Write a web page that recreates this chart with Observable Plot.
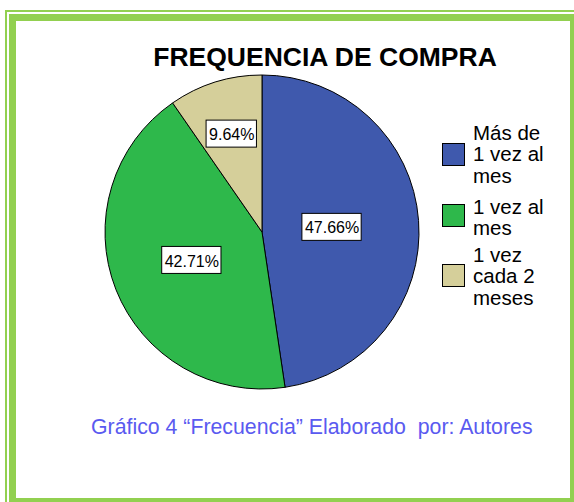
<!DOCTYPE html>
<html>
<head>
<meta charset="utf-8">
<script src="https://cdn.jsdelivr.net/npm/d3@7"></script>
<script src="https://cdn.jsdelivr.net/npm/@observablehq/plot@0.6"></script>
<style>
  html, body { margin: 0; padding: 0; background: #fff; width: 574px; height: 502px; overflow: hidden; position: relative; font-family: "Liberation Sans", Arial, sans-serif; }
  .thin { position: absolute; left: 5px; top: 10px; width: 700px; height: 700px; border-left: 2px solid #92D050; border-top: 2px solid #92D050; }
  .thick { position: absolute; left: 9px; top: 14px; width: 568px; height: 491px; box-sizing: border-box; border: 7.5px solid #92D050; background: #fff; }
  #title { position: absolute; left: 0; width: 650px; top: 44px; text-align: center; font-weight: bold; font-size: 26.5px; line-height: 27px; color: #000; white-space: nowrap; }
  #chart { position: absolute; left: 97px; top: 67px; }
  #legend { position: absolute; left: 0; top: 0; }
  .item { position: absolute; left: 473px; font-size: 20.5px; line-height: 21.3px; color: #000; white-space: nowrap; }
  .sw { position: absolute; left: 442px; width: 21px; height: 21px; border: 1px solid #000; }
  #caption { position: absolute; left: 91px; top: 416px; font-size: 21.3px; line-height: 22px; color: #5A5AF0; white-space: pre; }
</style>
</head>
<body>
<div class="thin"></div>
<div class="thick"></div>
<div id="title"></div>
<div id="chart"></div>
<div id="legend"></div>
<div id="caption"></div>
<script>
const titleText = "FREQUENCIA DE COMPRA";
const categories = ["Más de 1 vez al mes", "1 vez al mes", "1 vez cada 2 meses"];
const legendLines = [["Más de", "1 vez al", "mes"], ["1 vez al", "mes"], ["1 vez", "cada 2", "meses"]];
const values = [47.66, 42.71, 9.64];
const colors = ["#3F59AD", "#2EB84B", "#D5CF9A"];
const captionText = "Gráfico 4 “Frecuencia” Elaborado  por: Autores";

document.getElementById("title").textContent = titleText;
document.getElementById("caption").textContent = captionText;

const colorScale = Plot.scale({color: {type: "ordinal", domain: categories, range: colors}});

const data = categories.map((c, i) => ({category: c, value: values[i]}));
const arcs = d3.pie().sort(null).value(d => d.value)(data);

// label anchors at the centroid of each sector (unit radius, y up)
const labelData = arcs.map(a => {
  const alpha = (a.endAngle - a.startAngle) / 2;
  const th = (a.startAngle + a.endAngle) / 2;
  const d = 2 * Math.sin(alpha) / (3 * alpha);
  return {x: d * Math.sin(th), y: d * Math.cos(th), label: a.data.value.toFixed(2) + "%"};
});

const labelFont = "16px 'Liberation Sans', Arial, sans-serif";
const ctx = document.createElement("canvas").getContext("2d");
ctx.font = labelFont;

const size = 330, R = 157, C = size / 2;

const pieMark = (index, scales) => {
  const X = scales.x, Y = scales.y;
  const r = X(1) - X(0);
  const cx = X(0), cy = Y(0);
  const g = d3.create("svg:g");
  const arcGen = d3.arc().innerRadius(0).outerRadius(r);
  for (const a of arcs) {
    g.append("path")
      .attr("d", arcGen(a))
      .attr("transform", `translate(${cx},${cy})`)
      .attr("fill", colorScale.apply(a.data.category))
      .attr("stroke", "#000")
      .attr("stroke-width", 1)
      .attr("stroke-linejoin", "round");
  }
  for (const l of labelData) {
    const w = ctx.measureText(l.label).width + 5;
    const h = 27;
    g.append("rect")
      .attr("x", X(l.x) - w / 2)
      .attr("y", Y(l.y) - h / 2)
      .attr("width", w)
      .attr("height", h)
      .attr("fill", "#fff")
      .attr("stroke", "#000")
      .attr("stroke-width", 1);
  }
  return g.node();
};

const plot = Plot.plot({
  width: size,
  height: size,
  margin: 0,
  style: {background: "transparent", overflow: "visible"},
  x: {domain: [-1, 1], range: [C - R, C + R], axis: null},
  y: {domain: [-1, 1], range: [C + R, C - R], axis: null},
  marks: [
    pieMark,
    Plot.text(labelData, {
      x: "x", y: "y", text: "label",
      fill: "#000",
      fontSize: 16,
      fontFamily: "Liberation Sans, Arial, sans-serif",
      textAnchor: "middle",
      dy: 1
    })
  ]
});
document.getElementById("chart").appendChild(plot);

// legend
const legend = document.getElementById("legend");
const itemTops = [122, 196, 244];
const swatchTops = [143, 204, 264];
legendLines.forEach((lines, i) => {
  const sw = document.createElement("div");
  sw.className = "sw";
  sw.style.top = swatchTops[i] + "px";
  sw.style.background = colorScale.apply(categories[i]);
  legend.appendChild(sw);
  const t = document.createElement("div");
  t.className = "item";
  t.style.top = itemTops[i] + "px";
  t.innerHTML = lines.join("<br>");
  legend.appendChild(t);
});
</script>
</body>
</html>
